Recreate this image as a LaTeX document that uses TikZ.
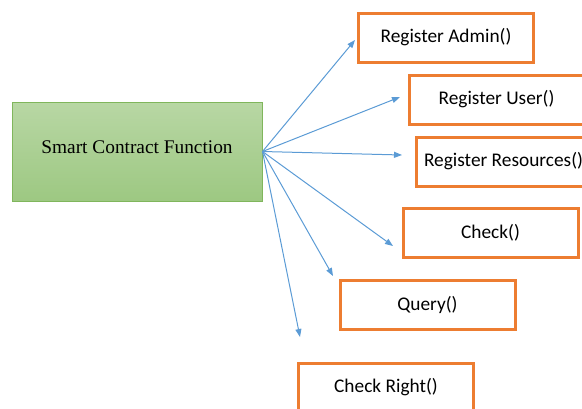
\documentclass[tikz,border=0pt]{standalone}
\usepackage{fontspec}
\setmainfont{Liberation Serif}
\newfontfamily\calibri{Carlito}
\usetikzlibrary{arrows.meta}
\definecolor{boxorange}{RGB}{237,125,49}
\definecolor{arrowblue}{RGB}{91,155,213}
\definecolor{fnline}{RGB}{128,182,92}
\definecolor{fntop}{RGB}{184,215,164}
\definecolor{fnbottom}{RGB}{157,200,130}

\begin{document}
\begin{tikzpicture}[x=0.75pt,y=-0.75pt,
    func/.style={draw=boxorange, line width=2.25pt, minimum width=131.25pt,
      minimum height=36.75pt, inner sep=0pt,
      font=\calibri\fontsize{14.5}{17}\selectfont},
    link/.style={draw=arrowblue, line width=0.75pt,
      -{Triangle[length=6pt,width=4.5pt]}}]
    \clip (0,0) rectangle (582,408);
    \node[draw=fnline, line width=0.75pt, top color=fntop, bottom color=fnbottom,
      minimum width=187.5pt, minimum height=74.25pt, text depth=6pt,
      font=\fontsize{14.5}{17}\selectfont] (fn) at (137,151.5) {Smart Contract Function};
    \node[func] (admin)     at (446,37.5)  {Register Admin()};
    \node[func] (user)      at (496.5,99.5) {Register User()};
    \node[func] (resources) at (503.5,161.5) {Register Resources()};
    \node[func] (check)     at (490.5,232.5) {Check()};
    \node[func] (query)     at (427.5,304.5) {Query()};
    \node[func] (right)     at (386,387.5) {Check Right()};
    % arrows stop short of the boxes
    \coordinate (toadmin)     at (355,40);
    \coordinate (touser)      at (400,97);
    \coordinate (toresources) at (402,155);
    \coordinate (tocheck)     at (393,246);
    \coordinate (toquery)     at (333,276);
    \coordinate (toright)     at (300,337);
    \foreach \t in {toadmin,touser,toresources,tocheck,toquery,toright}
        \draw[link] (fn.east) -- (\t);
\end{tikzpicture}
\end{document}
